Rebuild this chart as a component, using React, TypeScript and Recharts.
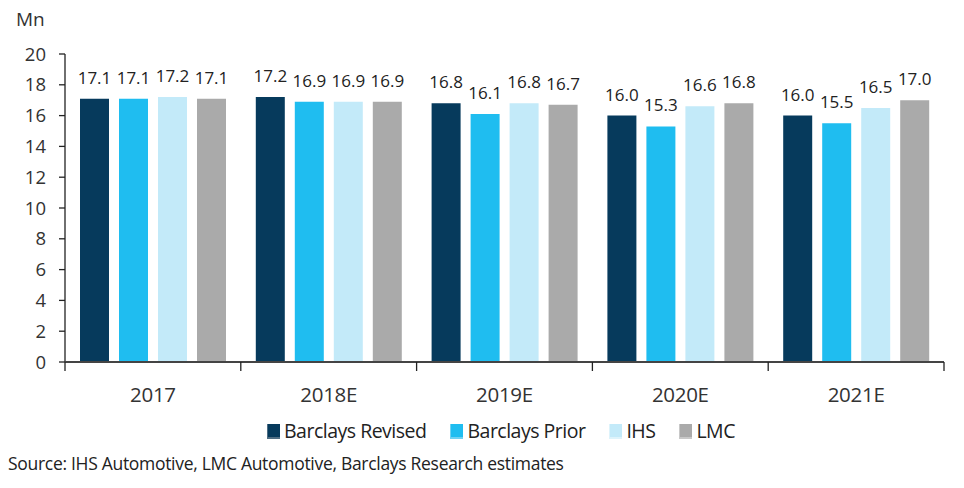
import React from "react";
import { BarChart, Bar, XAxis, YAxis, LabelList } from "recharts";

const categories = ["2017", "2018E", "2019E", "2020E", "2021E"];
const barclaysRevised = [17.1, 17.2, 16.8, 16.0, 16.0];
const barclaysPrior = [17.1, 16.9, 16.1, 15.3, 15.5];
const ihs = [17.2, 16.9, 16.8, 16.6, 16.5];
const lmc = [17.1, 16.9, 16.7, 16.8, 17.0];
const yTicks = [0, 2, 4, 6, 8, 10, 12, 14, 16, 18, 20];

const seriesNames = ["Barclays Revised", "Barclays Prior", "IHS", "LMC"];
const seriesKeys = ["revised", "prior", "ihs", "lmc"];
const colors = ["#063A5C", "#1FBDF0", "#C3EAF9", "#AAAAAA"];
const legendShade = ["#4F6E84", "#6FD2F3", "#DDF3FB", "#C8C8C8"];

const data = categories.map((c, i) => ({
  name: c,
  revised: barclaysRevised[i],
  prior: barclaysPrior[i],
  ihs: ihs[i],
  lmc: lmc[i],
}));

const FONT = "'Open Sans', 'DejaVu Sans', sans-serif";
const CHART_W = 948;
const CHART_H = 480;
const MARGIN = { top: 46, right: 12, left: 0, bottom: 86 };
const Y_W = 57;
const PLOT_W = CHART_W - MARGIN.left - MARGIN.right - Y_W;
const BAND = PLOT_W / categories.length;

const XTick = (props: any) => {
  const { x, y, payload, index } = props;
  const left = x - BAND / 2;
  return (
    <g>
      <line x1={left} x2={left} y1={y} y2={y + 9} stroke="#222" strokeWidth={1.3} />
      {index === categories.length - 1 && (
        <line x1={x + BAND / 2} x2={x + BAND / 2} y1={y} y2={y + 9} stroke="#222" strokeWidth={1.3} />
      )}
      <text x={x} y={y + 40} textAnchor="middle" fontSize={20.5} fill="#333" fontFamily={FONT} letterSpacing="-0.3">
        {payload.value}
      </text>
    </g>
  );
};

export default function App() {
  return (
    <div style={{ position: "relative", width: CHART_W, height: CHART_H, fontFamily: FONT, color: "#333" }}>
      <div style={{ position: "absolute", left: 8, top: 2, fontSize: 19, lineHeight: "19px" }}>Mn</div>
      <BarChart
        width={CHART_W}
        height={CHART_H}
        data={data}
        margin={MARGIN}
        barSize={29}
        barGap={10}
      >
        <YAxis
          width={Y_W}
          domain={[0, 20]}
          ticks={yTicks}
          interval={0}
          axisLine={{ stroke: "#222", strokeWidth: 1.3 }}
          tickLine={{ stroke: "#222", strokeWidth: 1.3 }}
          tickSize={6}
          tickMargin={13}
          tick={{ fontSize: 18.5, fill: "#333", fontFamily: FONT }}
        />
        <XAxis
          dataKey="name"
          axisLine={{ stroke: "#444", strokeWidth: 2 }}
          tickLine={false}
          tickSize={0}
          tickMargin={0}
          height={40}
          interval={0}
          tick={<XTick />}
        />
        {seriesKeys.map((k, i) => (
          <Bar key={k} dataKey={k} name={seriesNames[i]} fill={colors[i]} isAnimationActive={false}>
            <LabelList
              dataKey={k}
              position="top"
              offset={15}
              formatter={(v: any) => Number(v).toFixed(1)}
              style={{ fontSize: 17, fill: "#222", fontFamily: FONT }}
            />
          </Bar>
        ))}
      </BarChart>
      <div
        style={{
          position: "absolute",
          left: 259,
          top: 411,
          display: "flex",
          alignItems: "center",
          fontSize: 19.5,
          letterSpacing: "-0.5px",
          lineHeight: "24px",
          color: "#222",
        }}
      >
        {seriesNames.map((n, i) => (
          <div key={n} style={{ display: "flex", alignItems: "center", marginRight: i < 3 ? 24 : 0 }}>
            <svg width={13} height={15} style={{ marginRight: 4 }}>
              <rect x={0} y={0} width={13} height={15} fill={legendShade[i]} />
              <rect x={1} y={0} width={12} height={13} fill={colors[i]} />
            </svg>
            <span>{n}</span>
          </div>
        ))}
      </div>
      <div style={{ position: "absolute", left: 0, top: 447, fontSize: 17.5, lineHeight: "17px", color: "#222", letterSpacing: "-0.3px", whiteSpace: "nowrap" }}>
        Source: IHS Automotive, LMC Automotive, Barclays Research estimates
      </div>
    </div>
  );
}
